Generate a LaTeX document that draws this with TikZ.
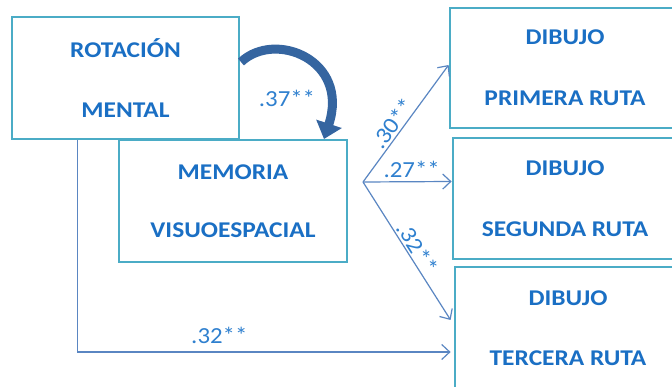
\documentclass[tikz,border=0pt]{standalone}
\usepackage{fontspec}
\setmainfont{Carlito}
\newfontfamily\boxfont[FakeStretch=1.13]{Carlito}
\newfontfamily\labfont[FakeStretch=1.08]{Carlito}
\usetikzlibrary{arrows.meta,calc}
\definecolor{boxc}{HTML}{4BACC6}
\definecolor{txtc}{HTML}{1A6FC4}
\definecolor{labc}{HTML}{2F80CF}
\definecolor{arrc}{HTML}{5A86C2}
\definecolor{curvc}{HTML}{3565A0}
\begin{document}
\begin{tikzpicture}[x=1pt,y=-1pt,
  vbox/.style={draw=boxc, line width=2.8pt, fill=white, inner sep=0pt, align=center,
    text=txtc, font=\boxfont\fontsize{22.5}{26}\selectfont\bfseries},
  conn/.style={draw=arrc, line width=1.2pt, -{Straight Barb[length=8pt,width=15pt,line width=1.2pt]}},
  coef/.style={text=labc, font=\labfont\fontsize{23}{26}\selectfont, inner sep=2pt}]
\useasboundingbox (0,0) rectangle (672,387);
\clip (0,0) rectangle (672,387);
\fill[white] (0,0) rectangle (672,387);

\node[vbox, minimum width=227pt, minimum height=122pt] (rot) at (125.5,78) {ROTACIÓN\\[34pt]MENTAL};
\node[vbox, minimum width=228pt, minimum height=122pt] (mem) at (233,201) {MEMORIA\\[32pt]VISUOESPACIAL};
\node[vbox, minimum width=230pt, minimum height=120pt] (d1) at (565,68) {DIBUJO\\[35pt]PRIMERA RUTA};
\node[vbox, minimum width=224pt, minimum height=121pt] (d2) at (565,198.5) {DIBUJO\\[35pt]SEGUNDA RUTA};
\node[vbox, minimum width=226pt, minimum height=122pt] (d3) at (568,328) {DIBUJO\\[34pt]TERCERA RUTA};

\coordinate (fan) at (363,182);
\draw[conn] (fan) -- ($(d1.west)+(0,-3)$) node[coef, pos=0.45, sloped, above] (l30) {.30**};
\draw[conn] (fan) -- ($(d2.west)+(0,-17)$) node[coef, pos=0.55, above, yshift=1pt] (l27) {.27**};
\draw[conn] (fan) -- ($(d3.west)+(-3,-8)$) node[coef, pos=0.52, sloped, above] (l32a) {.32**};

\coordinate (rs) at ($(rot.south west)+(67,0)$);
\draw[conn] (rs) |- ($(d3.west)+(-3,24)$) node[coef, pos=0.69, above, yshift=6pt] (l32b) {.32**};

\draw[curvc, line width=9pt, -{Triangle[length=16pt,width=26pt]}]
  (241,62) .. controls (275,30) and (350,60) .. (324,139);
\node[coef] (l37) at (287,98) {.37**};
\end{tikzpicture}
\end{document}
